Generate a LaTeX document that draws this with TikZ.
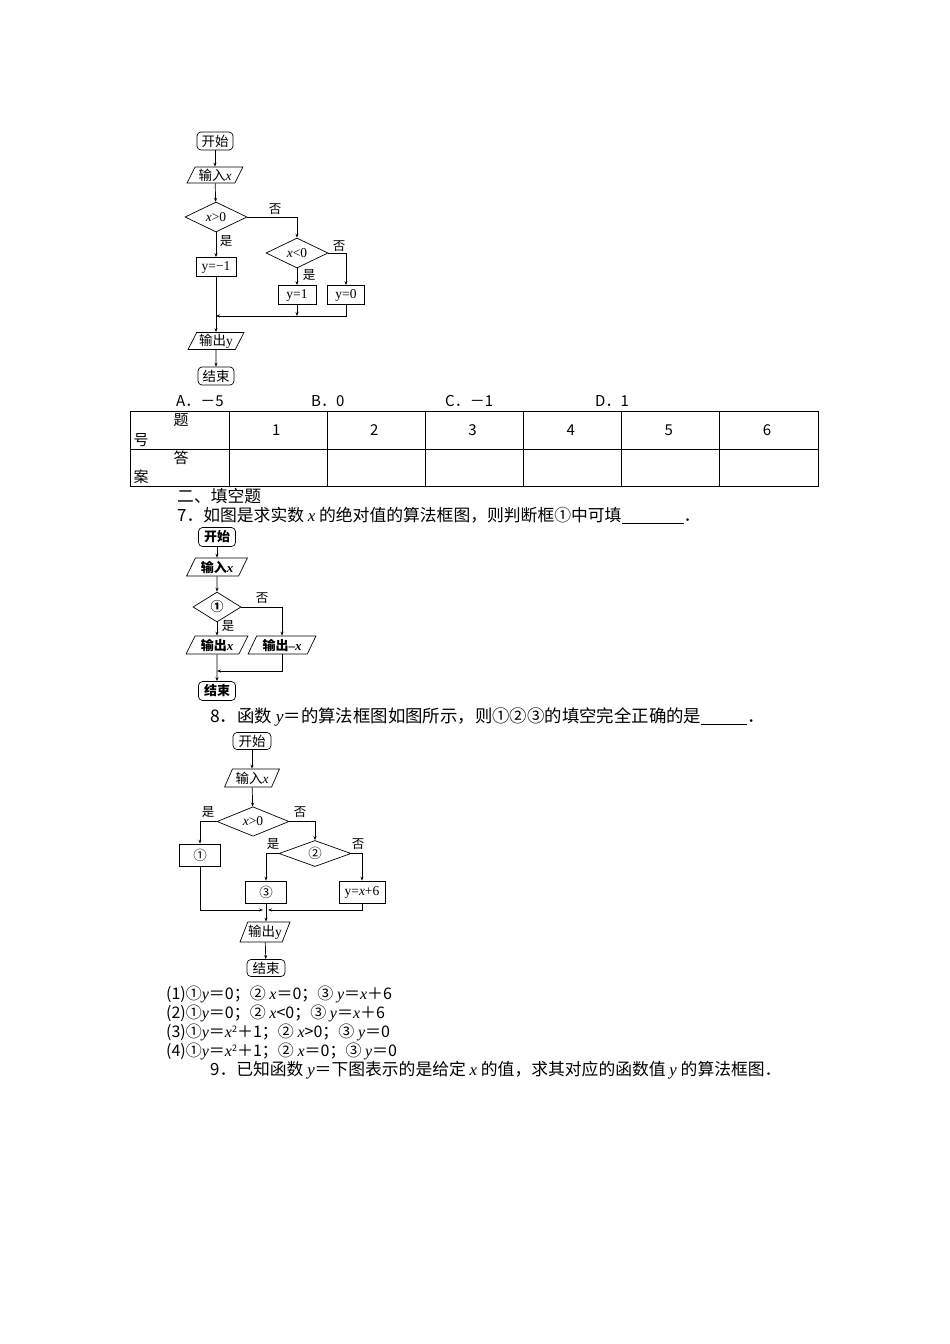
\documentclass[tikz,border=0pt]{standalone}
\usepackage{fontspec}
\setmainfont{Liberation Serif}
\newfontfamily\cjk{Noto Sans CJK SC}
\usetikzlibrary{shapes.geometric,arrows.meta}
\newcommand\iv[1]{{\rmfamily\itshape #1}}
\newcommand\rv[1]{{\rmfamily #1}}
\begin{document}
\begin{tikzpicture}[x=1pt,y=-1pt,
  fc/.style={draw, line width=0.7pt, inner sep=0pt, font=\fontsize{13.5}{14}\selectfont\cjk},
  fcb/.style={fc, font=\fontsize{13}{14}\selectfont\cjk\bfseries},
  term/.style={rounded corners=4pt},
  io/.style={trapezium, trapezium left angle=62, trapezium right angle=118, trapezium stretches=true},
  dec/.style={diamond},
  lab/.style={inner sep=0pt, font=\fontsize{12.5}{13}\selectfont\cjk},
  arr/.style={-{Stealth[length=4pt,width=3pt]}, line width=0.7pt},
  tbl/.style={line width=0.8pt},
  txt/.style={anchor=west, inner sep=0pt, font=\fontsize{16.8}{18}\selectfont\cjk},
  otxt/.style={anchor=west, inner sep=0pt, font=\fontsize{16}{18}\selectfont\cjk},
  ttxt/.style={inner sep=0pt, font=\fontsize{15}{18}\selectfont\cjk}]
\useasboundingbox[fill=white] (0,0) rectangle (950,1344);

% ---------- flowchart 1 ----------
\node[fc,term, minimum width=36, minimum height=18] (s1) at (215,141) {开始};
\node[fc,io, minimum width=56, minimum height=16] (i1) at (215,175) {输入\iv{x}};
\node[fc,dec, minimum width=62, minimum height=30] (d1) at (216,217) {\iv{x}\rv{>0}};
\node[fc, minimum width=40, minimum height=19] (b1) at (216,267) {\rv{y=−1}};
\node[fc,dec, minimum width=62, minimum height=30] (d2) at (297,253) {\iv{x}\rv{<0}};
\node[fc, minimum width=38, minimum height=19] (b2) at (297,295) {\rv{y=1}};
\node[fc, minimum width=37, minimum height=19] (b3) at (346,295) {\rv{y=0}};
\node[fc,io, minimum width=56, minimum height=17] (o1) at (216,341) {输出\rv{y}};
\node[fc,term, minimum width=36, minimum height=18] (e1) at (216,376) {结束};
\node[lab] (l1) at (275,209) {否};
\node[lab] (l2) at (226,241) {是};
\node[lab] (l3) at (339,246) {否};
\node[lab] (l4) at (309,275) {是};
\coordinate (m1) at (216,316);
\draw[arr] (s1) -- (i1);
\draw[arr] (i1) -- (d1);
\draw[arr] (d1.east) -| (d2.north);
\draw[arr] (d1) -- (b1);
\draw[arr] (d2) -- (b2);
\draw[arr] (d2.east) -| (b3.north);
\draw[arr] (b3.south) |- (m1);
\draw[arr] (b2.south) -- (b2.south |- m1);
\draw[arr] (b1) -- (o1);
\draw[arr] (o1) -- (e1);

% ---------- choices and table ----------
\node[ttxt, anchor=west] (ca) at (176,401) {A．－5};
\node[ttxt, anchor=west] (cb) at (311,401) {B．0};
\node[ttxt, anchor=west] (cc) at (445,401) {C．－1};
\node[ttxt, anchor=west] (cd) at (595,401) {D．1};
\draw[tbl] (130,411) rectangle (818,486);
\draw[tbl] (130,449) -- (818,449);
\foreach \k in {0,...,5} {\draw[tbl] (229+\k*98.17,411) -- (229+\k*98.17,486);}
\foreach \k in {1,...,6} {\node[ttxt] at (178+\k*98.17,430) {\k};}
\node[ttxt] (t1) at (181,420) {题};
\node[ttxt] (t2) at (141,440) {号};
\node[ttxt] (t3) at (181,458) {答};
\node[ttxt] (t4) at (141,477) {案};

% ---------- section 2 ----------
\node[txt] (h2) at (177,496) {二、填空题};
\node[txt] (q7) at (177,515) {7．如图是求实数 \iv{x} 的绝对值的算法框图，则判断框①中可填\rule[-2pt]{62pt}{0.6pt}．};

% ---------- flowchart 2 ----------
\node[fcb,term, minimum width=37, minimum height=19] (s2) at (217,537) {开始};
\node[fcb,io, minimum width=61, minimum height=18] (i2) at (217,567) {输入\iv{\bfseries x}};
\node[fcb,dec, minimum width=48, minimum height=30] (d3) at (217,607) {①};
\node[fcb,io, minimum width=62, minimum height=18] (o2) at (217,645) {输出\iv{\bfseries x}};
\node[fcb,io, minimum width=68, minimum height=18] (o3) at (282,645) {输出\rv{\bfseries –}\iv{\bfseries x}};
\node[fcb,term, minimum width=37, minimum height=19] (e2) at (217,691) {结束};
\node[lab] (l5) at (262,598) {否};
\node[lab] (l6) at (228,626) {是};
\coordinate (m2) at (217,671);
\draw[arr] (s2) -- (i2);
\draw[arr] (i2) -- (d3);
\draw[arr] (d3) -- (o2);
\draw[arr] (d3.east) -| (o3.north);
\draw[arr] (o3.south) |- (m2);
\draw[arr] (o2) -- (e2);

% ---------- question 8 ----------
\node[txt, font=\fontsize{17.4}{18}\selectfont\cjk] (q8) at (210,717) {8．函数 \iv{y}＝的算法框图如图所示，则①②③的填空完全正确的是\rule[-2pt]{46pt}{0.6pt}．};

% ---------- flowchart 3 ----------
\node[fc,term, minimum width=38, minimum height=17] (s3) at (252,741) {开始};
\node[fc,io, minimum width=55, minimum height=18] (i3) at (252,778) {输入\iv{x}};
\node[fc,dec, minimum width=72, minimum height=27] (d4) at (253,821.5) {\iv{x}\rv{>0}};
\node[fc, minimum width=41, minimum height=22] (r1) at (200,855) {①};
\node[fc,dec, minimum width=72, minimum height=26] (d5) at (315,853.5) {②};
\node[fc, minimum width=41, minimum height=22] (r3) at (266,892) {③};
\node[fc, minimum width=46, minimum height=22] (r4) at (362,892) {\rv{y=}\iv{x}\rv{+6}};
\node[fc,io, minimum width=50, minimum height=20] (o4) at (265,932) {输出\rv{y}};
\node[fc,term, minimum width=38, minimum height=17] (e3) at (266,968) {结束};
\node[lab] (l7) at (208,812) {是};
\node[lab] (l8) at (300,812) {否};
\node[lab] (l9) at (273,844) {是};
\node[lab] (l10) at (358,844) {否};
\coordinate (m3) at (263,910);
\coordinate (m4) at (268,910);
\draw[arr] (s3) -- (i3);
\draw[arr] (i3) -- (d4);
\draw[arr] (d4.west) -| (r1.north);
\draw[arr] (d4.east) -| (d5.north);
\draw[arr] (d5.west) -| (r3.north);
\draw[arr] (d5.east) -| (r4.north);
\draw[arr] (r1.south) |- (m3);
\draw[arr] (r4.south) |- (m4);
\draw[arr] (r3.south) -- (r3.south |- o4.north);
\draw[arr] (o4) -- (e3);

% ---------- options ----------
\node[otxt] (p1) at (166,994) {(1)①\iv{y}＝0；② \iv{x}＝0；③ \iv{y}＝\iv{x}＋6};
\node[otxt] (p2) at (166,1013) {(2)①\iv{y}＝0；② \iv{x}<0；③ \iv{y}＝\iv{x}＋6};
\node[otxt] (p3) at (166,1032) {(3)①\iv{y}＝\iv{x}\raisebox{5pt}{\fontsize{9}{9}\selectfont 2}＋1；② \iv{x}>0；③ \iv{y}＝0};
\node[otxt] (p4) at (166,1051) {(4)①\iv{y}＝\iv{x}\raisebox{5pt}{\fontsize{9}{9}\selectfont 2}＋1；② \iv{x}＝0；③ \iv{y}＝0};
\node[txt] (q9) at (210,1070) {9．已知函数 \iv{y}＝下图表示的是给定 \iv{x} 的值，求其对应的函数值 \iv{y} 的算法框图．};
\end{tikzpicture}
\end{document}
